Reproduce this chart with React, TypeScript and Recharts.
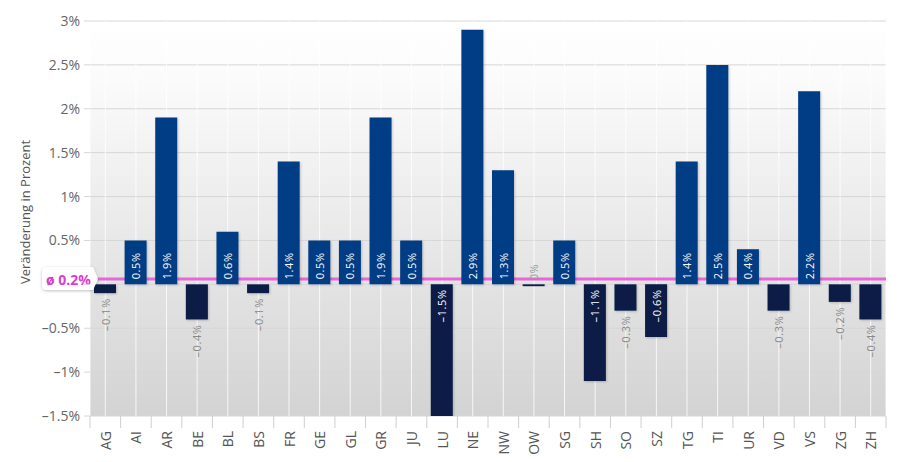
import React from 'react';
import { BarChart, Bar, XAxis, YAxis, CartesianGrid, ReferenceLine, LabelList, Cell } from 'recharts';

const cantons = ['AG', 'AI', 'AR', 'BE', 'BL', 'BS', 'FR', 'GE', 'GL', 'GR', 'JU', 'LU', 'NE', 'NW', 'OW', 'SG', 'SH', 'SO', 'SZ', 'TG', 'TI', 'UR', 'VD', 'VS', 'ZG', 'ZH'];
const changes = [-0.1, 0.5, 1.9, -0.4, 0.6, -0.1, 1.4, 0.5, 0.5, 1.9, 0.5, -1.5, 2.9, 1.3, -0.02, 0.5, -1.1, -0.3, -0.6, 1.4, 2.5, 0.4, -0.3, 2.2, -0.2, -0.4];
const yTicks = [-1.5, -1, -0.5, 0, 0.5, 1, 1.5, 2, 2.5, 3];
const averageLabel = 'ø 0.2%';
const averageLinePos = 0.06;

const data = cantons.map((c, i) => ({ canton: c, value: changes[i] }));

const FONT = '"Open Sans", "Noto Sans", sans-serif';
const POS_COLOR = '#063d84';
const NEG_COLOR = '#081c47';
const PINK = '#e866d9';
const BAND = 796 / 26;

const fmt = (v: number) => {
  if (Math.abs(v) < 0.05) return '0%';
  const s = `${Math.abs(Math.round(v * 10) / 10)}%`;
  return v < 0 ? `–${s}` : s;
};

// rotated text, reading bottom to top
const VText = ({ x, y, anchor, fill, children }: any) => (
  <g transform={`translate(${x} ${y}) rotate(-90)`}>
    <text x={0} y={0} textAnchor={anchor} dominantBaseline="central" fontSize={11} fontFamily={FONT} letterSpacing={0.6} fill={fill}>
      {children}
    </text>
  </g>
);

const BarLabel = (props: any) => {
  const { x, y, width, height, value } = props;
  const cx = x + width / 2;
  const top = Math.min(y, y + height);
  const bottom = Math.max(y, y + height);
  const text = fmt(value);
  if (Math.abs(value) < 0.05) return <VText x={cx} y={top - 4} anchor="start" fill="#999">{text}</VText>;
  if (value > 0) return <VText x={cx} y={bottom - 5} anchor="start" fill="#fff">{text}</VText>;
  if (value <= -0.6) return <VText x={cx} y={top + 5} anchor="end" fill="#fff">{text}</VText>;
  return <VText x={cx} y={bottom + 5} anchor="end" fill="#888">{text}</VText>;
};

const XTick = (props: any) => {
  const { x, y, payload, index } = props;
  const last = index === cantons.length - 1;
  return (
    <g>
      <line x1={x - BAND / 2} x2={x - BAND / 2} y1={y} y2={y + 12} stroke="#cfcfcf" />
      {last && <line x1={x + BAND / 2} x2={x + BAND / 2} y1={y} y2={y + 12} stroke="#cfcfcf" />}
      <g transform={`translate(${x} ${y + 15}) rotate(-90)`}>
        <text x={0} y={0} textAnchor="end" dominantBaseline="central" fontSize={14} fontFamily={FONT} fill="#555">
          {payload.value}
        </text>
      </g>
    </g>
  );
};

const AvgLabel = (props: any) => {
  const vb = props.viewBox || {};
  const x = vb.x;
  const y = vb.y;
  const l = x - 48;
  const r = x + 3;
  return (
    <g>
      <path
        d={`M ${l + 5} ${y - 12} H ${r} L ${r + 5} ${y} L ${r} ${y + 11} H ${l + 5} Q ${l} ${y + 11} ${l} ${y + 6} V ${y - 7} Q ${l} ${y - 12} ${l + 5} ${y - 12} Z`}
        fill="#fff"
        filter="url(#boxShadow)"
      />
      <text x={l + 4} y={y} dominantBaseline="central" fontSize={14} fontWeight="bold" fontFamily={FONT} fill="#e03ccd">
        {averageLabel}
      </text>
    </g>
  );
};

const YLabel = () => (
  <g transform="translate(25 212) rotate(-90)">
    <text x={0} y={0} textAnchor="middle" dominantBaseline="central" fontSize={13} fontFamily={FONT} fill="#555">
      Veränderung in Prozent
    </text>
  </g>
);

export default function App() {
  return (
    <div style={{ position: 'absolute', left: 0, top: 0, width: 900, height: 462, background: '#fff' }}>
      <svg width={0} height={0} style={{ position: 'absolute' }}>
        <defs>
          <linearGradient id="bgGrad" x1="0" y1="0" x2="0" y2="1">
            <stop offset="0%" stopColor="#ffffff" />
            <stop offset="15%" stopColor="#fbfbfb" />
            <stop offset="60%" stopColor="#e6e6e6" />
            <stop offset="100%" stopColor="#d3d3d3" />
          </linearGradient>
          <filter id="barShadow" x="-20%" y="-20%" width="150%" height="150%">
            <feDropShadow dx="1" dy="1" stdDeviation="1" floodColor="#000" floodOpacity="0.2" />
          </filter>
          <filter id="boxShadow" x="-20%" y="-40%" width="150%" height="200%">
            <feDropShadow dx="0" dy="1" stdDeviation="1.5" floodColor="#000" floodOpacity="0.25" />
          </filter>
        </defs>
      </svg>
      <BarChart width={900} height={462} data={data} margin={{ top: 21, right: 14, left: 0, bottom: 0 }} barCategoryGap={0}>
        <CartesianGrid fill="url(#bgGrad)" stroke="#d6d6d6" vertical={false} />
        <CartesianGrid stroke="#ffffff" strokeOpacity={0.8} horizontal={false} />
        {/* average line drawn as a grid line so it sits under the bars */}
        <CartesianGrid vertical={false} horizontalValues={[averageLinePos]} stroke={PINK} strokeWidth={3} />
        <XAxis
          dataKey="canton"
          axisLine={false}
          tickLine={false}
          tickSize={0}
          tickMargin={0}
          interval={0}
          height={46}
          tick={<XTick />}
        />
        <YAxis
          domain={[-1.5, 3]}
          ticks={yTicks}
          width={90}
          axisLine={false}
          tickLine={{ stroke: '#d6d6d6' }}
          tickSize={6}
          tickMargin={4}
          tick={{ fontSize: 14, fill: '#666', fontFamily: FONT }}
          tickFormatter={(v: number) => (v === 0 ? '' : fmt(v))}
          label={<YLabel />}
          allowDataOverflow
        />
        <ReferenceLine y={averageLinePos} stroke="none" strokeOpacity={0} label={<AvgLabel />} />
        <Bar dataKey="value" barSize={22} isAnimationActive={false} style={{ filter: 'url(#barShadow)' }}>
          {data.map((d, i) => (
            <Cell key={i} fill={d.value >= 0 ? POS_COLOR : NEG_COLOR} />
          ))}
          <LabelList dataKey="value" content={<BarLabel />} />
        </Bar>
      </BarChart>
    </div>
  );
}
